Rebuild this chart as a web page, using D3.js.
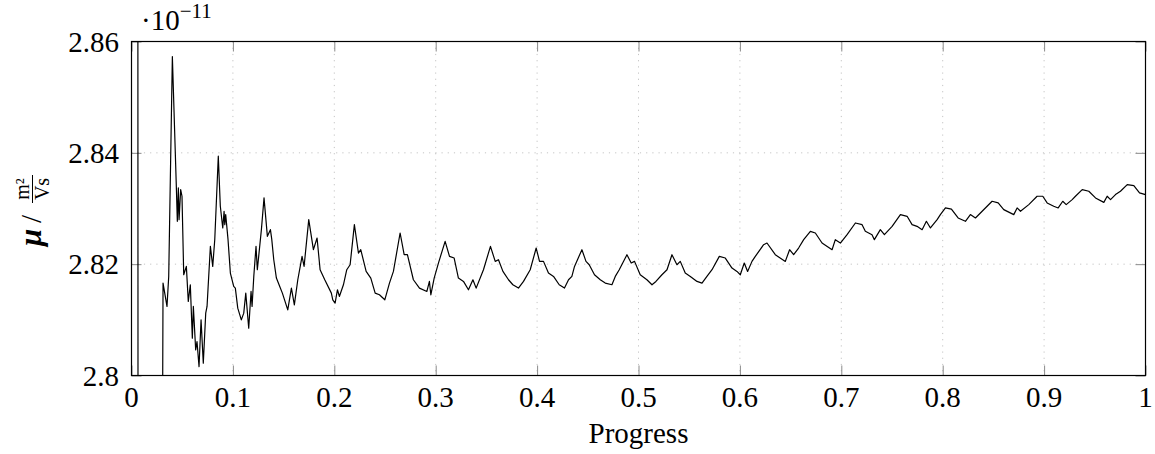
<!DOCTYPE html>
<html>
<head>
<meta charset="utf-8">
<script src="https://cdn.jsdelivr.net/npm/d3@7"></script>
<style>
	body { margin: 0; background: #fff; }
	#visHolder { width: 1155px; height: 454px; }
	text { font-family: "Liberation Serif", "Times New Roman", serif; fill: #000; }
</style>
</head>
<body>
<div id="visHolder"></div>
<script>
// progress (0..1) and mobility in units of 1e-11 m^2/Vs
const progress = [
	0.0, 0.0055, 0.0065, 0.03, 0.0311, 0.035, 0.0367, 0.0403, 0.0442, 0.0452,
	0.0462, 0.0469, 0.0485, 0.0498, 0.0515, 0.0541, 0.056, 0.058, 0.06, 0.061,
	0.0633, 0.0646, 0.0666, 0.0686, 0.0708, 0.0732, 0.0745, 0.0755, 0.0778, 0.0801,
	0.0821, 0.0856, 0.0876, 0.09, 0.0913, 0.092, 0.0929, 0.0952, 0.0975, 0.1008,
	0.1024, 0.1048, 0.1083, 0.1107, 0.1127, 0.1156, 0.1179, 0.1189, 0.1206, 0.1228,
	0.1241, 0.1281, 0.1307, 0.134, 0.137, 0.1383, 0.1403, 0.1429, 0.1462, 0.1488,
	0.1541, 0.1577, 0.1606, 0.164, 0.1682, 0.1702, 0.1748, 0.1794, 0.183, 0.186,
	0.1906, 0.1971, 0.1985, 0.2008, 0.2031, 0.205, 0.209, 0.2123, 0.2156, 0.2198,
	0.2238, 0.2261, 0.2314, 0.236, 0.2403, 0.2445, 0.2498, 0.2544, 0.2583, 0.2649,
	0.2689, 0.2721, 0.278, 0.284, 0.2913, 0.2938, 0.2952, 0.2985, 0.3027, 0.3093,
	0.3136, 0.3182, 0.3224, 0.3274, 0.3323, 0.3367, 0.3399, 0.3471, 0.354, 0.3587,
	0.3619, 0.3663, 0.3718, 0.3761, 0.3816, 0.3866, 0.3932, 0.3991, 0.4024, 0.4063,
	0.4112, 0.4162, 0.4218, 0.427, 0.431, 0.4343, 0.4369, 0.4442, 0.4482, 0.4514,
	0.4566, 0.4623, 0.4672, 0.4738, 0.4771, 0.481, 0.4886, 0.4928, 0.4961, 0.5017,
	0.5083, 0.5133, 0.5172, 0.5231, 0.5281, 0.533, 0.5379, 0.5412, 0.5461, 0.5511,
	0.5577, 0.5626, 0.5675, 0.5725, 0.5797, 0.5856, 0.5922, 0.5971, 0.6004, 0.6043,
	0.6076, 0.6119, 0.6152, 0.6234, 0.6267, 0.6349, 0.6448, 0.649, 0.653, 0.6579,
	0.6629, 0.6695, 0.6744, 0.681, 0.6909, 0.6941, 0.6991, 0.7057, 0.7139, 0.7205,
	0.7237, 0.7303, 0.7326, 0.7385, 0.7425, 0.7501, 0.7583, 0.7649, 0.7698, 0.7747,
	0.7797, 0.7839, 0.7879, 0.7945, 0.7977, 0.8027, 0.8086, 0.8152, 0.8224, 0.8273,
	0.8323, 0.8389, 0.8487, 0.8547, 0.8602, 0.8701, 0.8734, 0.8767, 0.8849, 0.8931,
	0.8987, 0.903, 0.9095, 0.9139, 0.9184, 0.9218, 0.9277, 0.9309, 0.9376, 0.9441,
	0.9507, 0.9589, 0.9622, 0.9655, 0.9704, 0.9753, 0.982, 0.9885, 0.9941, 1.0,
];
const mobility = [
	3.4, 3.3, 2.75, 2.76, 2.8166, 2.8124, 2.8178, 2.8573, 2.834, 2.8277,
	2.8337, 2.828, 2.8334, 2.8322, 2.8181, 2.8196, 2.8133, 2.8163, 2.8067, 2.8124,
	2.8046, 2.8061, 2.8016, 2.81, 2.8022, 2.8112, 2.8124, 2.8157, 2.8232, 2.8196,
	2.8244, 2.8394, 2.8304, 2.8265, 2.8295, 2.8271, 2.8289, 2.8244, 2.8184, 2.816,
	2.8157, 2.8121, 2.81, 2.8112, 2.8148, 2.8085, 2.8151, 2.8124, 2.8178, 2.8232,
	2.819, 2.8262, 2.8319, 2.825, 2.8262, 2.8245, 2.8208, 2.8175, 2.816, 2.8148,
	2.8118, 2.8157, 2.8127, 2.8172, 2.8214, 2.8196, 2.828, 2.8226, 2.8247, 2.819,
	2.8172, 2.8148, 2.8136, 2.813, 2.8154, 2.8142, 2.8163, 2.819, 2.8199, 2.8271,
	2.822, 2.8226, 2.8187, 2.8175, 2.8148, 2.8145, 2.8136, 2.8166, 2.8187, 2.8256,
	2.8217, 2.8217, 2.8172, 2.8157, 2.8151, 2.8169, 2.8145, 2.8175, 2.8202, 2.8241,
	2.8214, 2.8211, 2.8175, 2.8169, 2.8154, 2.8172, 2.8157, 2.819, 2.8232, 2.8205,
	2.8208, 2.8187, 2.8172, 2.8163, 2.8157, 2.8169, 2.819, 2.8229, 2.8205, 2.8205,
	2.8184, 2.8178, 2.8163, 2.8157, 2.8172, 2.8178, 2.8196, 2.8226, 2.8205, 2.8199,
	2.8181, 2.8172, 2.8166, 2.8163, 2.8178, 2.819, 2.8217, 2.8202, 2.8205, 2.8181,
	2.8172, 2.8163, 2.8169, 2.8181, 2.819, 2.8217, 2.8199, 2.8205, 2.8184, 2.8178,
	2.8169, 2.8166, 2.8178, 2.819, 2.8214, 2.8211, 2.8193, 2.8187, 2.8181, 2.8202,
	2.8187, 2.8205, 2.8214, 2.8235, 2.8238, 2.8217, 2.8205, 2.8226, 2.8217, 2.8229,
	2.8244, 2.8259, 2.8256, 2.8238, 2.8226, 2.8244, 2.8238, 2.8253, 2.8274, 2.8271,
	2.8259, 2.8253, 2.8244, 2.8262, 2.8253, 2.8268, 2.8289, 2.8286, 2.8271, 2.8268,
	2.8262, 2.8277, 2.8265, 2.828, 2.8289, 2.8301, 2.8299, 2.8283, 2.8277, 2.8289,
	2.8283, 2.8295, 2.8313, 2.831, 2.8298, 2.8289, 2.8301, 2.8295, 2.8307, 2.8322,
	2.8322, 2.831, 2.8304, 2.8301, 2.8313, 2.8307, 2.8316, 2.8322, 2.8334, 2.8331,
	2.8319, 2.8311, 2.8322, 2.8316, 2.8325, 2.8331, 2.8343, 2.8341, 2.8328, 2.8325,
];
const xTicks = [0, 0.1, 0.2, 0.3, 0.4, 0.5, 0.6, 0.7, 0.8, 0.9, 1];
const yTicks = [2.8, 2.82, 2.84, 2.86];

const options = {
	dimensions: { width: 1155, height: 454 },
	padding: { top: 41.5, right: 9.5, bottom: 78.5, left: 131.5 },
	tickLength: 10,
	fontSize: 29,
};

Chart(options);

function Chart({ dimensions, padding, tickLength, fontSize }) {
	const width = dimensions.width - padding.left - padding.right;
	const height = dimensions.height - padding.top - padding.bottom;

	//create svg
	const svg = d3
		.select("#visHolder")
		.append("svg")
		.attr("width", dimensions.width)
		.attr("height", dimensions.height);

	const plot = svg
		.append("g")
		.attr("transform", `translate(${padding.left}, ${padding.top})`);

	//scales
	const x = d3.scaleLinear().domain([0, 1]).range([0, width]);
	const y = d3.scaleLinear().domain([2.8, 2.86]).range([height, 0]);

	//grid
	plot
		.append("g")
		.selectAll("line")
		.data(xTicks.slice(1, -1))
		.join("line")
		.attr("x1", (d) => x(d))
		.attr("x2", (d) => x(d))
		.attr("y1", 0)
		.attr("y2", height)
		.attr("stroke", "#c4c4c4")
		.attr("stroke-width", 1)
		.attr("stroke-dasharray", "1.2,5");
	plot
		.append("g")
		.selectAll("line")
		.data(yTicks.slice(1, -1))
		.join("line")
		.attr("x1", 0)
		.attr("x2", width)
		.attr("y1", (d) => y(d))
		.attr("y2", (d) => y(d))
		.attr("stroke", "#c4c4c4")
		.attr("stroke-width", 1)
		.attr("stroke-dasharray", "1.2,5");

	//inward ticks on all four sides
	const tickColor = "#8a8a8a";
	const xAxisBottom = plot
		.append("g")
		.attr("transform", `translate(0, ${height})`)
		.call(d3.axisBottom(x).tickValues(xTicks).tickSizeInner(-tickLength).tickSizeOuter(0).tickFormat(""));
	const xAxisTop = plot
		.append("g")
		.call(d3.axisTop(x).tickValues(xTicks).tickSizeInner(-tickLength).tickSizeOuter(0).tickFormat(""));
	const yAxisLeft = plot
		.append("g")
		.call(d3.axisLeft(y).tickValues(yTicks).tickSizeInner(-tickLength).tickSizeOuter(0).tickFormat(""));
	const yAxisRight = plot
		.append("g")
		.attr("transform", `translate(${width}, 0)`)
		.call(d3.axisRight(y).tickValues(yTicks).tickSizeInner(-tickLength).tickSizeOuter(0).tickFormat(""));
	[xAxisBottom, xAxisTop, yAxisLeft, yAxisRight].forEach((a) => {
		a.select(".domain").remove();
		a.selectAll(".tick line").attr("stroke", tickColor).attr("stroke-width", 1);
	});

	//tick labels
	plot
		.append("g")
		.selectAll("text")
		.data(xTicks)
		.join("text")
		.attr("x", (d) => x(d))
		.attr("y", height + 31)
		.attr("text-anchor", "middle")
		.attr("font-size", fontSize)
		.text((d) => d3.format("")(d));
	plot
		.append("g")
		.selectAll("text")
		.data(yTicks)
		.join("text")
		.attr("x", -12.5)
		.attr("y", (d) => y(d) + 10)
		.attr("text-anchor", "end")
		.attr("font-size", fontSize)
		.text((d) => d3.format("")(d));

	//data line
	plot
		.append("clipPath")
		.attr("id", "clip")
		.append("rect")
		.attr("width", width)
		.attr("height", height);
	const line = d3
		.line()
		.x((d, i) => x(progress[i]))
		.y((d) => y(d));
	plot
		.append("path")
		.datum(mobility)
		.attr("clip-path", "url(#clip)")
		.attr("d", line)
		.attr("fill", "none")
		.attr("stroke", "#000")
		.attr("stroke-width", 1.2)
		.attr("stroke-linejoin", "round");

	//frame
	plot
		.append("rect")
		.attr("width", width)
		.attr("height", height)
		.attr("fill", "none")
		.attr("stroke", "#000")
		.attr("stroke-width", 1.2);

	//exponent label
	const expo = svg
		.append("text")
		.attr("x", 141)
		.attr("y", 30)
		.attr("font-size", fontSize);
	expo.append("tspan").text("\u00b710");
	expo
		.append("tspan")
		.attr("font-size", 21)
		.attr("dy", -12)
		.text("\u221211");

	//x axis title
	svg
		.append("text")
		.attr("x", padding.left + width / 2)
		.attr("y", 443)
		.attr("text-anchor", "middle")
		.attr("font-size", fontSize)
		.text("Progress");

	//y axis title
	const yTitle = svg.append("g").attr("transform", "translate(41, 210) rotate(-90)");
	yTitle
		.append("text")
		.attr("x", -36)
		.attr("y", 0)
		.attr("font-size", 31)
		.attr("font-weight", "bold")
		.attr("font-style", "italic")
		.text("\u03bc");
	yTitle
		.append("text")
		.attr("x", -13)
		.attr("y", 0)
		.attr("font-size", fontSize)
		.text("/");
	const frac = yTitle.append("g").attr("transform", "translate(21, 0)");
	frac
		.append("text")
		.attr("x", 0)
		.attr("y", -12)
		.attr("text-anchor", "middle")
		.attr("font-size", 20)
		.text("m\u00b2");
	frac
		.append("line")
		.attr("x1", -14)
		.attr("x2", 14)
		.attr("y1", -8.5)
		.attr("y2", -8.5)
		.attr("stroke", "#000")
		.attr("stroke-width", 1);
	frac
		.append("text")
		.attr("x", 0)
		.attr("y", 8)
		.attr("text-anchor", "middle")
		.attr("font-size", 20)
		.text("Vs");
}
</script>
</body>
</html>
